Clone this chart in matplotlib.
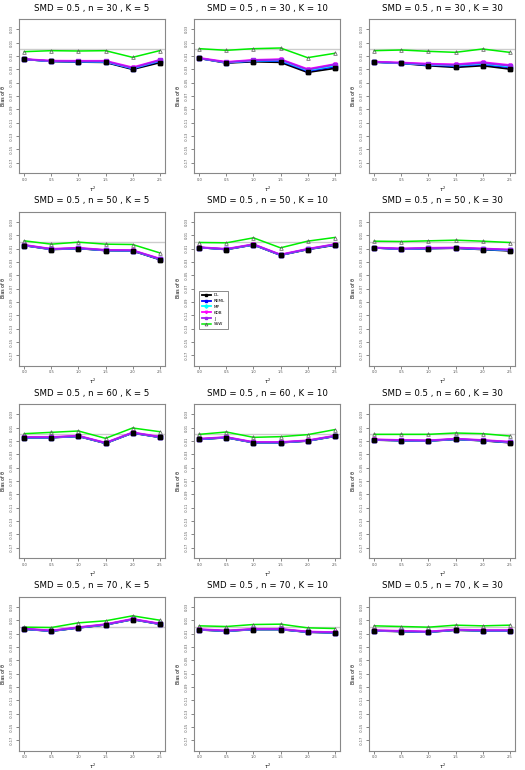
import matplotlib
matplotlib.use("Agg")
import matplotlib.pyplot as plt

tau2 = [0.0, 0.5, 1.0, 1.5, 2.0, 2.5]
n_vals = [30, 30, 30, 50, 50, 50, 60, 60, 60, 70, 70, 70]
k_vals = [5, 10, 30, 5, 10, 30, 5, 10, 30, 5, 10, 30]
yticks = [0.03, 0.01, -0.01, -0.03, -0.05, -0.07, -0.09, -0.11, -0.13, -0.15, -0.17]

# bias per panel (row-major), one list per method
DL = [
    [-0.015, -0.018, -0.019, -0.0195, -0.030, -0.020],
    [-0.0135, -0.0205, -0.0185, -0.0195, -0.0345, -0.0285],
    [-0.019, -0.021, -0.0245, -0.027, -0.0245, -0.0295],
    [-0.0055, -0.0115, -0.010, -0.013, -0.0135, -0.0265],
    [-0.0085, -0.0115, -0.0045, -0.020, -0.0115, -0.005],
    [-0.009, -0.011, -0.010, -0.0095, -0.0115, -0.0135],
    [-0.005, -0.005, -0.003, -0.0135, 0.002, -0.0045],
    [-0.0075, -0.005, -0.0125, -0.0125, -0.010, -0.003],
    [-0.0085, -0.0095, -0.010, -0.0075, -0.0095, -0.0125],
    [-0.0035, -0.0065, -0.0015, 0.003, 0.011, 0.004],
    [-0.0045, -0.0065, -0.004, -0.004, -0.008, -0.009],
    [-0.006, -0.007, -0.008, -0.005, -0.006, -0.006],
]
REML = [
    [-0.015, -0.018, -0.0185, -0.019, -0.029, -0.018],
    [-0.0135, -0.020, -0.0175, -0.0175, -0.0325, -0.026],
    [-0.019, -0.021, -0.0235, -0.025, -0.0225, -0.027],
    [-0.0055, -0.011, -0.0098, -0.0128, -0.0133, -0.026],
    [-0.0085, -0.0112, -0.0043, -0.0198, -0.0112, -0.0045],
    [-0.009, -0.0108, -0.0098, -0.0093, -0.011, -0.0128],
    [-0.0048, -0.0048, -0.0028, -0.0133, 0.0022, -0.0043],
    [-0.0073, -0.0048, -0.0123, -0.0123, -0.0098, -0.0028],
    [-0.0083, -0.0093, -0.0098, -0.0073, -0.0093, -0.012],
    [-0.0033, -0.0063, -0.0013, 0.0032, 0.0112, 0.0042],
    [-0.0043, -0.0063, -0.0038, -0.0038, -0.0078, -0.0088],
    [-0.0058, -0.0068, -0.0078, -0.0048, -0.0058, -0.0058],
]
MP = [
    [-0.015, -0.0178, -0.0183, -0.0185, -0.0285, -0.0172],
    [-0.0135, -0.0198, -0.017, -0.0165, -0.0315, -0.0245],
    [-0.019, -0.0208, -0.023, -0.0243, -0.0215, -0.0258],
    [-0.0052, -0.0112, -0.0097, -0.0127, -0.0132, -0.0258],
    [-0.0085, -0.0111, -0.0042, -0.0197, -0.0111, -0.0042],
    [-0.009, -0.0107, -0.0097, -0.0092, -0.0108, -0.0125],
    [-0.0047, -0.0047, -0.0027, -0.0132, 0.0023, -0.0042],
    [-0.0072, -0.0047, -0.0122, -0.0122, -0.0097, -0.0027],
    [-0.0082, -0.0092, -0.0097, -0.0072, -0.0092, -0.0118],
    [-0.0032, -0.0062, -0.0012, 0.0033, 0.0113, 0.0043],
    [-0.0042, -0.0062, -0.0037, -0.0037, -0.0077, -0.0087],
    [-0.0057, -0.0067, -0.0077, -0.0047, -0.0057, -0.0057],
]
KDB = [
    [-0.0145, -0.017, -0.0172, -0.0172, -0.027, -0.0158],
    [-0.0128, -0.0188, -0.0158, -0.0148, -0.0295, -0.0222],
    [-0.0185, -0.0198, -0.0215, -0.0225, -0.0192, -0.0235],
    [-0.0045, -0.0105, -0.009, -0.012, -0.0125, -0.025],
    [-0.008, -0.0105, -0.0035, -0.019, -0.0105, -0.0035],
    [-0.0085, -0.01, -0.009, -0.0085, -0.01, -0.0115],
    [-0.004, -0.004, -0.002, -0.0125, 0.003, -0.0035],
    [-0.0065, -0.004, -0.0115, -0.0115, -0.009, -0.002],
    [-0.0075, -0.0085, -0.009, -0.0065, -0.0085, -0.011],
    [-0.0025, -0.0055, -0.0005, 0.004, 0.012, 0.005],
    [-0.0035, -0.0055, -0.003, -0.003, -0.007, -0.008],
    [-0.005, -0.006, -0.007, -0.004, -0.005, -0.005],
]
J = [
    [-0.015, -0.0175, -0.018, -0.018, -0.028, -0.0165],
    [-0.0135, -0.0195, -0.0165, -0.0155, -0.0305, -0.023],
    [-0.019, -0.0205, -0.0225, -0.0235, -0.0205, -0.0245],
    [-0.005, -0.011, -0.0095, -0.0125, -0.013, -0.0255],
    [-0.0085, -0.011, -0.004, -0.0195, -0.011, -0.004],
    [-0.009, -0.0105, -0.0095, -0.009, -0.0105, -0.012],
    [-0.0045, -0.0045, -0.0025, -0.013, 0.0025, -0.004],
    [-0.007, -0.0045, -0.012, -0.012, -0.0095, -0.0025],
    [-0.008, -0.009, -0.0095, -0.007, -0.009, -0.0115],
    [-0.003, -0.006, -0.001, 0.0035, 0.0115, 0.0045],
    [-0.004, -0.006, -0.0035, -0.0035, -0.0075, -0.0085],
    [-0.0055, -0.0065, -0.0075, -0.0045, -0.0055, -0.0055],
]
SSW = [
    [-0.0035, -0.002, -0.0025, -0.002, -0.012, -0.002],
    [0.001, -0.0015, 0.001, 0.002, -0.0125, -0.006],
    [-0.002, -0.001, -0.003, -0.0045, 0.0005, -0.0045],
    [0.0015, -0.0035, -0.0005, -0.0035, -0.004, -0.0165],
    [-0.001, -0.0015, 0.006, -0.009, 0.001, 0.0065],
    [0.001, 0.0005, 0.0015, 0.0025, 0.001, -0.001],
    [0.001, 0.003, 0.005, -0.006, 0.0095, 0.004],
    [0.0, 0.0035, -0.0045, -0.0035, -0.0005, 0.007],
    [0.0, 0.0, 0.0, 0.002, 0.001, -0.0025],
    [-0.0005, -0.001, 0.006, 0.009, 0.0165, 0.010],
    [0.0015, 0.0005, 0.0035, 0.004, -0.0015, -0.0025],
    [0.0015, 0.0005, -0.0005, 0.0025, 0.0015, 0.0025],
]

methods = [
    ("DL", DL, "black", "s"),
    ("REML", REML, "#0000FF", "s"),
    ("MP", MP, "#00FFFF", "D"),
    ("KDB", KDB, "#FF00FF", "v"),
    ("J", J, "#A020F0", "s"),
]

W, H = 525, 770
fig = plt.figure(figsize=(W / 100, H / 100), dpi=100)

for i in range(12):
    r, c = divmod(i, 3)
    left = 19 + 175 * c
    top = 19 + 192.5 * r
    ax = fig.add_axes([left / W, 1 - (top + 154) / H, 146 / W, 154 / H])
    ax.axhline(0, color="#cccccc", lw=1.0, zorder=1)
    for name, vals, col, mk in methods:
        ax.plot(tau2, vals[i], color=col, lw=1.3, marker=mk, ms=2.2,
                mfc=col, mec=col, label=name, zorder=2)
    # DL points end up on top in the original
    ax.plot(tau2, DL[i], ls="none", marker="s", ms=2.4, color="black", zorder=4)
    ax.plot(tau2, SSW[i], color="#00EE00", lw=1.1, marker="^", ms=2.6,
            mfc="none", mec="#555555", mew=0.5, label="SSW", zorder=3)
    ax.set_xlim(-0.1, 2.6)
    ax.set_ylim(-0.1855, 0.0455)
    ax.set_xticks(tau2)
    ax.set_xticklabels(["0.0", "0.5", "1.0", "1.5", "2.0", "2.5"])
    ax.set_yticks(yticks)
    ax.set_yticklabels(["%.2f" % v for v in yticks], rotation=90, va="center")
    ax.tick_params(labelsize=2.6, length=2, width=0.5, pad=1.5, colors="#555555")
    for sp in ax.spines.values():
        sp.set_color("#888888")
        sp.set_linewidth(0.8)
    ax.set_title("SMD = 0.5 , n = %d , K = %d" % (n_vals[i], k_vals[i]),
                 fontsize=6.2, pad=6)
    ax.set_xlabel(r"$\tau^2$", fontsize=3.5, labelpad=2)
    ax.set_ylabel("Bias of θ", fontsize=3.3, labelpad=3)
    if i == 4:
        leg = ax.legend(loc="upper left", bbox_to_anchor=(0.02, 0.5), fontsize=3,
                        fancybox=False, edgecolor="#777777", framealpha=1,
                        handlelength=2.2, borderpad=0.6, labelspacing=0.45,
                        markerscale=0.8)
        leg.get_frame().set_linewidth(0.6)

fig.savefig("out.png", dpi=100)
